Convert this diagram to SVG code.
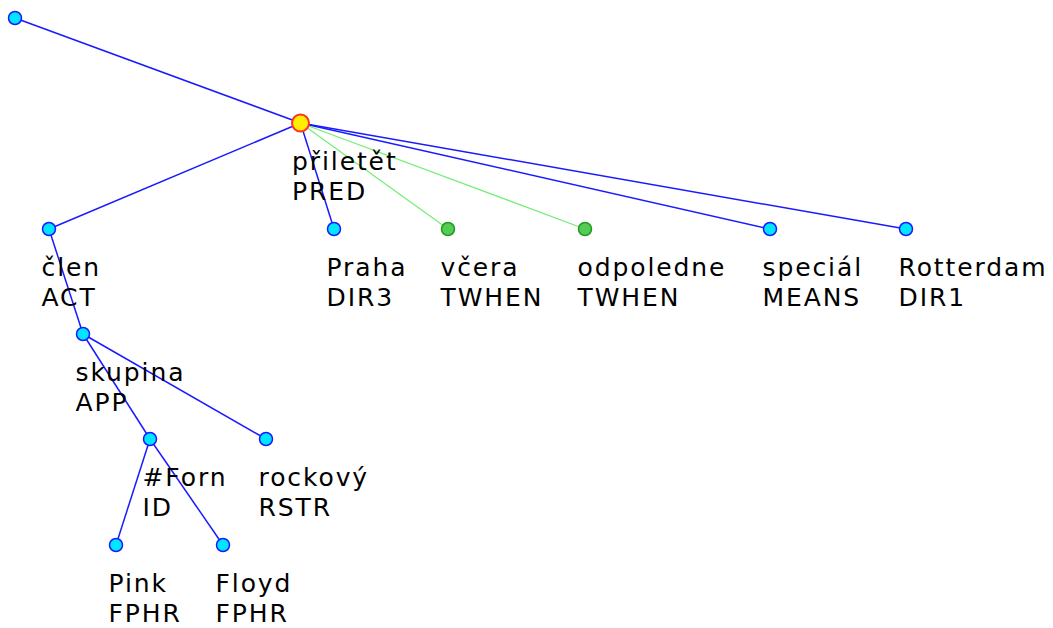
<svg xmlns="http://www.w3.org/2000/svg" width="1053" height="628" viewBox="0 0 1053 628">
<style>
.e{stroke:#1a1aff;stroke-width:1.5;fill:none}
.g{stroke:#77ee77;stroke-width:1.3;fill:none}
.n{fill:#00e6ff;stroke:#1a1aff;stroke-width:1.5}
.ng{fill:#55cc55;stroke:#229922;stroke-width:1.5}
.nr{fill:#ffee00;stroke:#ff3322;stroke-width:2}
text{font-family:"DejaVu Sans","Liberation Sans",sans-serif;font-size:25px;fill:#000;letter-spacing:1.9px}
</style>
<rect width="1053" height="628" fill="#fff"/>
<g id="connectors">
<line class="e" x1="15" y1="18" x2="300.5" y2="123"/>
<line class="e" x1="300.5" y1="123" x2="49" y2="229"/>
<line class="e" x1="300.5" y1="123" x2="334" y2="229"/>
<line class="g" x1="300.5" y1="123" x2="448" y2="229"/>
<line class="g" x1="300.5" y1="123" x2="585" y2="229"/>
<line class="e" x1="300.5" y1="123" x2="770" y2="229"/>
<line class="e" x1="300.5" y1="123" x2="906" y2="229"/>
<line class="e" x1="49" y1="229" x2="83" y2="334"/>
<line class="e" x1="83" y1="334" x2="150" y2="439"/>
<line class="e" x1="83" y1="334" x2="266" y2="439"/>
<line class="e" x1="150" y1="439" x2="116" y2="545"/>
<line class="e" x1="150" y1="439" x2="223" y2="545"/>
</g>
<g id="root"><circle class="n" cx="15" cy="18" r="6.5"/></g>
<g id="priletet"><circle class="nr" cx="300.5" cy="123" r="8.5"/><text x="292" y="170">přiletět</text><text x="292" y="200">PRED</text></g>
<g id="clen"><circle class="n" cx="49" cy="229" r="6.5"/><text x="41.5" y="276">člen</text><text x="41.5" y="306">ACT</text></g>
<g id="praha"><circle class="n" cx="334" cy="229" r="6.5"/><text x="326.5" y="276">Praha</text><text x="326.5" y="306">DIR3</text></g>
<g id="vcera"><circle class="ng" cx="448" cy="229" r="6.5"/><text x="440.5" y="276">včera</text><text x="440.5" y="306">TWHEN</text></g>
<g id="odpoledne"><circle class="ng" cx="585" cy="229" r="6.5"/><text x="577.5" y="276">odpoledne</text><text x="577.5" y="306">TWHEN</text></g>
<g id="special"><circle class="n" cx="770" cy="229" r="6.5"/><text x="762.5" y="276">speciál</text><text x="762.5" y="306">MEANS</text></g>
<g id="rotterdam"><circle class="n" cx="906" cy="229" r="6.5"/><text x="898.5" y="276">Rotterdam</text><text x="898.5" y="306">DIR1</text></g>
<g id="skupina"><circle class="n" cx="83" cy="334" r="6.5"/><text x="75.5" y="381">skupina</text><text x="75.5" y="411">APP</text></g>
<g id="forn"><circle class="n" cx="150" cy="439" r="6.5"/><text x="142.5" y="486">#Forn</text><text x="142.5" y="516">ID</text></g>
<g id="rockovy"><circle class="n" cx="266" cy="439" r="6.5"/><text x="258.5" y="486">rockový</text><text x="258.5" y="516">RSTR</text></g>
<g id="pink"><circle class="n" cx="116" cy="545" r="6.5"/><text x="108.5" y="592">Pink</text><text x="108.5" y="622">FPHR</text></g>
<g id="floyd"><circle class="n" cx="223" cy="545" r="6.5"/><text x="215.5" y="592">Floyd</text><text x="215.5" y="622">FPHR</text></g>
</svg>
